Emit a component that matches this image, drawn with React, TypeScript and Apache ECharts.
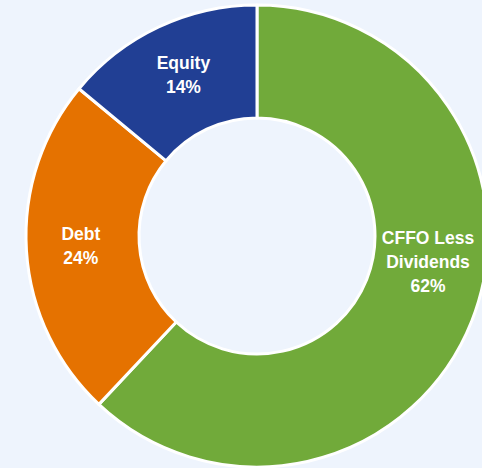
import React, { useEffect, useRef } from "react";
import * as echarts from "echarts";

const categories = ["CFFO Less\nDividends", "Equity", "Debt"];
const values = [62, 14, 24];
const colors = ["#71AA3A", "#213F94", "#E57200"];
// order clockwise from top: CFFO (62), Debt (24), Equity (14)
const order = [0, 2, 1];
const labelOffsets: Record<number, [number, number]> = { 0: [6, -39], 1: [2, 0], 2: [1, -1] };

export default function App() {
  const ref = useRef<HTMLDivElement>(null);
  useEffect(() => {
    document.body.style.margin = "0";
    const chart = echarts.init(ref.current!, undefined, { renderer: "svg" });
    const data = order.map((i) => ({
      name: categories[i],
      value: values[i],
      itemStyle: { color: colors[i] },
      label: { offset: labelOffsets[i] },
    }));
    chart.setOption({
      animation: false,
      backgroundColor: "#EEF4FD",
      series: [
        {
          type: "pie",
          center: [257, 236],
          radius: [118, 231],
          startAngle: 90,
          clockwise: true,
          data,
          itemStyle: { borderColor: "#ffffff", borderWidth: 3 },
          label: {
            show: true,
            position: "inside",
            formatter: (p: any) => `${p.name}\n${p.value}%`,
            color: "#ffffff",
            fontFamily: "Liberation Sans, Arial, sans-serif",
            fontWeight: "bold",
            fontSize: 17.5,
            lineHeight: 24,
            align: "center",
          },
          labelLine: { show: false },
          emphasis: { disabled: true },
        },
      ],
    });
    return () => chart.dispose();
  }, []);
  return <div ref={ref} style={{ width: 482, height: 468, background: "#EEF4FD" }} />;
}
